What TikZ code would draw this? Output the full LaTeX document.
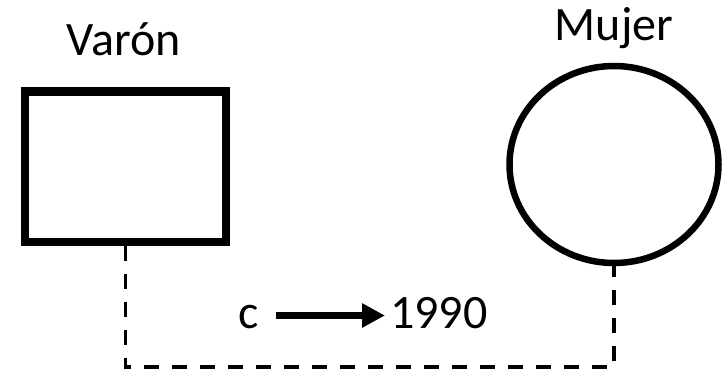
\documentclass[tikz,border=0pt]{standalone}
\usepackage{fontspec}
\setmainfont{Carlito}
\usetikzlibrary{shapes.geometric,arrows.meta}
\tikzset{
  lbl/.style={font=\fontsize{48}{54}\selectfont, inner sep=0pt, anchor=base},
  malebox/.style={draw, rectangle, line width=8pt, minimum width=201pt, minimum height=150pt, inner sep=0pt},
  femcirc/.style={draw, ellipse, line width=6.5pt, minimum width=209pt, minimum height=197pt, inner sep=0pt},
  rel/.style={line width=3.5pt, dash pattern=on 15pt off 13pt},
  thickarrow/.style={line width=7pt, -{Triangle[length=23pt,width=23pt]}}
}
\begin{document}
\begin{tikzpicture}[x=1pt,y=-1pt]
\useasboundingbox (0,0) rectangle (723,369);
\node[malebox] (m) at (125.5,166.5) {};
\node[femcirc] (f) at (614,164.5) {};
\node[lbl] (ml) at (123.5,56) {Varón};
\node[lbl] (fl) at (614,41) {Mujer};
\coordinate (c1) at (125.5,367);
\coordinate (c2) at (614,367);
\draw[rel] (m.south) -- (c1) -- (c2) -- (f.south);
\node[lbl, anchor=base] (c) at (249,328) {c};
\node[lbl, anchor=base west] (y) at (390,328) {1990};
\coordinate (a1) at (276,315.5);
\coordinate (a2) at (385,315.5);
\draw[thickarrow] (a1) -- (a2);
\end{tikzpicture}
\end{document}
